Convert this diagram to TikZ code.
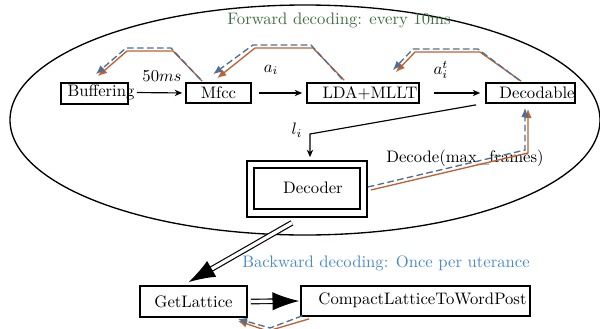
\documentclass[tikz,border=0pt]{standalone}
\usetikzlibrary{arrows.meta,calc}
\definecolor{fborange}{HTML}{C0622F}
\definecolor{fbblue}{HTML}{4F6E96}
\definecolor{fwgreen}{HTML}{3F6E3F}
\definecolor{bwblue}{HTML}{4A88CC}
\tikzset{
 box/.style={draw, line width=1pt, inner sep=0pt},
 lbl/.style={inner sep=0pt},
 flow/.style={line width=0.7pt, -{Stealth[length=4.5pt,width=3.8pt]}},
 fbor/.style={draw=fborange, thick, -{Latex[length=5.5pt,width=4.5pt]}},
 fbbl/.style={draw=fbblue, thick, dash pattern=on 4pt off 2pt, -{Latex[length=5.5pt,width=4.5pt]}},
 dbl/.style={double, double distance=2pt, line width=0.7pt, -{Latex[length=16pt,width=11pt]}},
}
\begin{document}
\begin{tikzpicture}[x=0.6pt,y=-0.6pt]
\useasboundingbox (0,0) rectangle (600,328);
\draw[line width=0.8pt] (305,120) ellipse [x radius=177pt, y radius=69pt];

% labels
\node[lbl, text=fwgreen] (fwd) at (339,20) {Forward decoding: every 10ms};
\node[lbl] (fifty) at (162,76) {$50ms$};
\node[lbl] (ai) at (271,70) {$a_i$};
\node[lbl] (ait) at (441,70) {$a_i^t$};
\node[lbl] (li) at (297,130) {$l_i$};
\node[lbl] (decl) at (465,158) {Decode(max\_frames)};
\node[lbl, text=bwblue] (bwd) at (386,263) {Backward decoding: Once per uterance};

% boxes
\node[box, minimum width=40.2pt, minimum height=12.6pt] (buf) at (94.5,93.5) {};
\node[lbl] (buft) at (101,92.5) {Buffering};
\node[box, minimum width=39pt, minimum height=12pt] (mfcc) at (218.5,93) {Mfcc};
\node[box, minimum width=67.2pt, minimum height=12pt] (lda) at (363,93) {};
\node[lbl] (ldat) at (370,93) {LDA+MLLT};
\node[box, minimum width=53.4pt, minimum height=12pt] (dec) at (530.5,93) {};
\node[lbl] (dect) at (537,93) {Decodable};
\node[box, minimum width=72pt, minimum height=33.6pt] (decoder) at (307,189) {};
\node[box, minimum width=63.6pt, minimum height=24.6pt] (decin) at (307,188.5) {};
\node[lbl] (decodert) at (313,188) {Decoder};
\node[box, minimum width=64.2pt, minimum height=18.6pt] (getl) at (193.5,301.5) {GetLattice};
\node[box, minimum width=137.4pt, minimum height=18pt] (clt) at (415.5,301) {};
\node[lbl] (cltt) at (422.5,300) {CompactLatticeToWordPost};

% forward flow
\draw[flow, shorten <=1.2pt, shorten >=1.8pt] (buft.east) -- (mfcc.west);
\draw[flow, shorten <=4.2pt, shorten >=2.4pt] (mfcc.east) -- (lda.west);
\draw[flow, shorten <=8.4pt, shorten >=3pt] (lda.east) -- (dec.west);
\coordinate (lc) at (310,134);
\draw[flow, shorten >=1.8pt] ($(dec.south west)+(-9,1)$) -- (lc) -- (lc |- decoder.north);

% feedback
\draw[fbor] ($(mfcc.north west)+(17,-1)$) -- (173,51) -- (127,51) -- ($(buf.north east)+(-31,-6)$);
\draw[fbbl] ($(mfcc.north west)+(15,-3)$) -- (171,48) -- (126,48) -- ($(buf.north east)+(-33,-8)$);
\draw[fbor] ($(lda.north west)+(38,-2)$) -- (313,48) -- (255,48) -- ($(mfcc.north west)+(32,-4)$);
\draw[fbbl] ($(lda.north west)+(36,-3)$) -- (311,45) -- (253,45) -- ($(mfcc.north west)+(28,-8)$);
\draw[fbor] ($(dec.north west)+(36,-1)$) -- (480,52) -- (415,52) -- ($(lda.north east)+(-24,-10)$);
\draw[fbbl] ($(dec.north west)+(34,-2)$) -- (478,49) -- (413,49) -- ($(lda.north east)+(-27,-12)$);
\draw[fbor] ($(decoder.east)+(3,1)$) -- (528,153) -- ($(dec.south)+(-2.5,5)$);
\draw[fbbl] ($(decoder.east)+(0,-2)$) -- (525,150) -- ($(dec.south)+(-5.5,4)$);
\draw[fbor] ($(clt.south west)+(9,2)$) -- (268,331) -- ($(getl.south east)+(-10,3)$);
\draw[fbbl] ($(clt.south west)+(2,-1)$) -- (270,328) -- ($(getl.south east)+(-10,1)$);

% backward
\draw[dbl] ($(decoder.south)+(-15,5)$) -- ($(getl.north)+(-5,-3)$);
\draw[dbl] ($(getl.east)+(3,0)$) -- ($(clt.west)+(-1,0)$);
\end{tikzpicture}
\end{document}
